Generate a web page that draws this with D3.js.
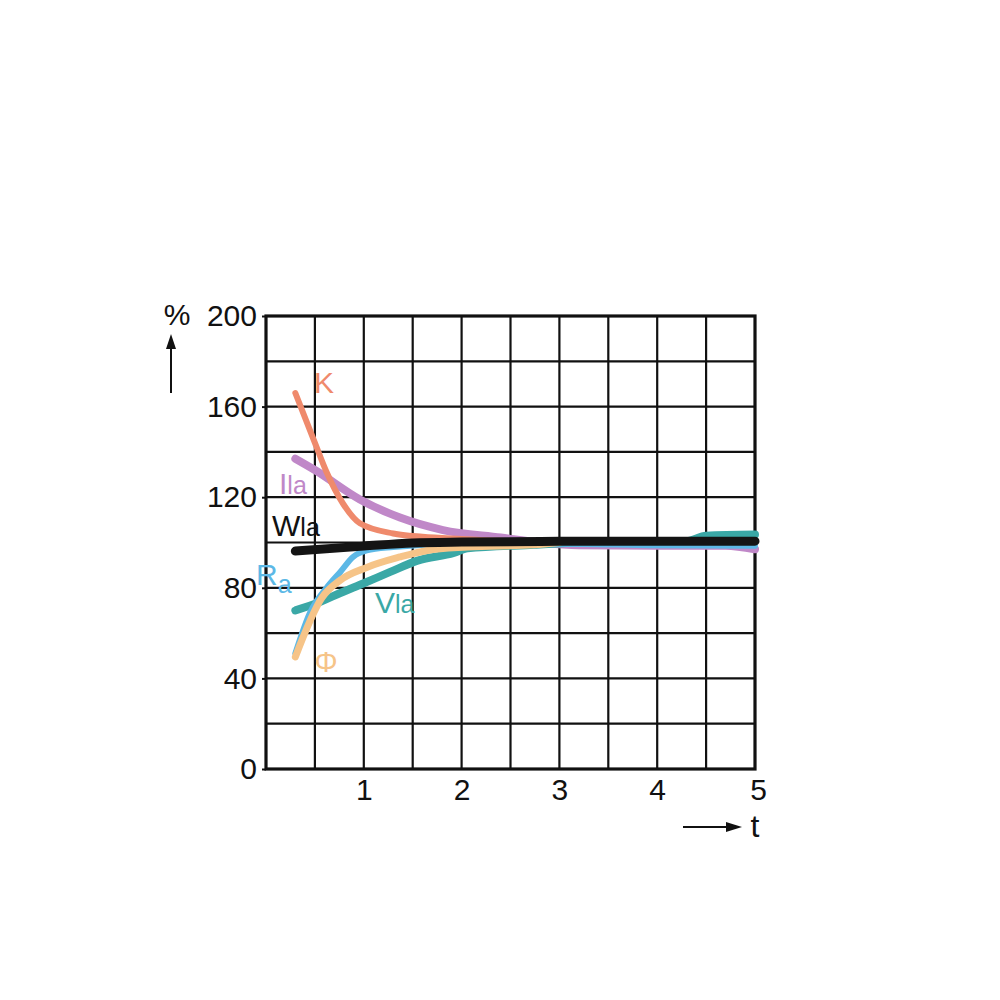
<!DOCTYPE html>
<html><head><meta charset="utf-8">
<script src="https://cdn.jsdelivr.net/npm/d3@7"></script>
<style>body{margin:0;background:#fff}svg{display:block}</style>
</head><body>
<svg id="c" width="1000" height="1000"></svg>
<script>
const yTicks = [0, 40, 80, 120, 160, 200];
const xTicks = [1, 2, 3, 4, 5];
const K   = [[0.3,166],[0.5,144],[0.62,131],[0.79,117],[0.96,108.5],[1.3,104],[1.6,102.5],[2.0,101.5],[2.5,100.5],[3,100]];
const Ila = [[0.3,137],[0.5,132],[0.96,119],[1.37,111],[1.81,105.5],[2.4,102.2],[2.8,100],[3.2,98.8],[4,98.6],[4.7,98.6],[5,97]];
const Wla = [[0.3,96.2],[1.0,98.4],[1.5,99.8],[2.0,100.2],[3,100.5],[4,100.6],[5,100.6]];
const Ra  = [[0.3,51],[0.45,69],[0.62,80],[0.76,87],[0.89,93.6],[1.03,96.5],[1.3,98],[2.0,99.5],[3,99.5],[4,98.8],[5,98.6]];
const Phi = [[0.3,49.5],[0.57,75.5],[0.76,83.4],[1.03,89],[1.37,93.6],[1.65,96.5],[2.06,98],[2.74,99],[3,100]];
const Vla = [[0.3,70],[0.55,73.7],[0.76,77.7],[1.0,82],[1.27,87],[1.55,92],[1.92,95.4],[2.06,97.4],[2.74,99],[3.2,100],[4.3,100.5],[4.5,103],[5,103.5]];

const svg = d3.select("#c");
const L = 266, R = 755, T = 316, B = 769;
const x = d3.scaleLinear().domain([0,5]).range([L,R]);
const y = d3.scaleLinear().domain([0,200]).range([B,T]);
const font = "Liberation Sans, Arial, sans-serif";

// grid
const g = svg.append("g");
g.selectAll("line.v").data(d3.range(0.5,5,0.5)).join("line")
  .attr("x1",d=>x(d)).attr("x2",d=>x(d)).attr("y1",T).attr("y2",B)
  .attr("stroke","#111").attr("stroke-width",2.2);
g.selectAll("line.h").data(d3.range(20,200,20)).join("line")
  .attr("y1",d=>y(d)).attr("y2",d=>y(d)).attr("x1",L).attr("x2",R)
  .attr("stroke","#111").attr("stroke-width",2.2);
svg.append("rect").attr("x",L).attr("y",T).attr("width",R-L).attr("height",B-T)
  .attr("fill","none").attr("stroke","#111").attr("stroke-width",3.2);

// axes labels
const yAxis = d3.axisLeft(y).tickValues(yTicks).tickSize(4).tickPadding(5);
const ya = svg.append("g").attr("transform",`translate(${L},0)`).call(yAxis);
ya.select(".domain").remove();
ya.selectAll("line").attr("stroke","#111").attr("stroke-width",2);
ya.selectAll("text").attr("font-family",font).attr("font-size",30).attr("fill","#111");

const xAxis = d3.axisBottom(x).tickValues(xTicks).tickFormat(d3.format("d")).tickSize(0).tickPadding(10);
const xa = svg.append("g").attr("transform",`translate(0,${B})`).call(xAxis);
xa.select(".domain").remove();
xa.selectAll("text").attr("font-family",font).attr("font-size",30).attr("fill","#111")
  .attr("dx", d => d===5 ? 3 : 0);

// y unit + arrow
svg.append("text").attr("x",177).attr("y",325).attr("text-anchor","middle").attr("font-family",font).attr("font-size",30).attr("fill","#111").text("%");
svg.append("line").attr("x1",171).attr("x2",171).attr("y1",393).attr("y2",346).attr("stroke","#111").attr("stroke-width",2);
svg.append("path").attr("d","M171,334 L166,349 L176,349 Z").attr("fill","#111");
// x unit + arrow
svg.append("line").attr("x1",683).attr("x2",728).attr("y1",827).attr("y2",827).attr("stroke","#111").attr("stroke-width",2);
svg.append("path").attr("d","M742,827 L726,822 L726,832 Z").attr("fill","#111");
svg.append("text").attr("x",755).attr("y",837).attr("text-anchor","middle").attr("font-family",font).attr("font-size",32).attr("fill","#111").text("t");

// curves
const line = d3.line().x(d=>x(d[0])).y(d=>y(d[1])).curve(d3.curveMonotoneX);
const series = [
  {d:Ila, c:"#c088c8", w:8},
  {d:K,   c:"#ef8a6c", w:6},
  {d:Vla, c:"#3aa8a6", w:8},
  {d:Ra,  c:"#5cb8e6", w:6},
  {d:Phi, c:"#f6c488", w:7},
  {d:Wla, c:"#141414", w:9}
];
svg.append("g").selectAll("path").data(series).join("path")
  .attr("d",s=>line(s.d)).attr("fill","none").attr("stroke",s=>s.c)
  .attr("stroke-width",s=>s.w).attr("stroke-linecap","round").attr("stroke-linejoin","round");

// labels
function lab(xp, yp, main, sub, col, subDy, fs){
  const t = svg.append("text").attr("x",xp).attr("y",yp).attr("font-family",font).attr("fill",col).attr("font-size",fs||30);
  t.append("tspan").text(main);
  if(sub) t.append("tspan").attr("font-size",25).attr("dy",subDy||0).text(sub);
}
lab(314,393,"K",null,"#ef8a6c");
lab(279,494,"I","la","#c088c8");
lab(272,536,"W","la","#111");
lab(256,585,"R","a","#5cb8e6",8);
lab(375,613,"V","la","#3aa8a6");
svg.append("text").attr("x",326).attr("y",672).attr("text-anchor","middle").attr("font-family",font).attr("font-size",29).attr("fill","#f6c488").text("Φ");
</script>
</body></html>
